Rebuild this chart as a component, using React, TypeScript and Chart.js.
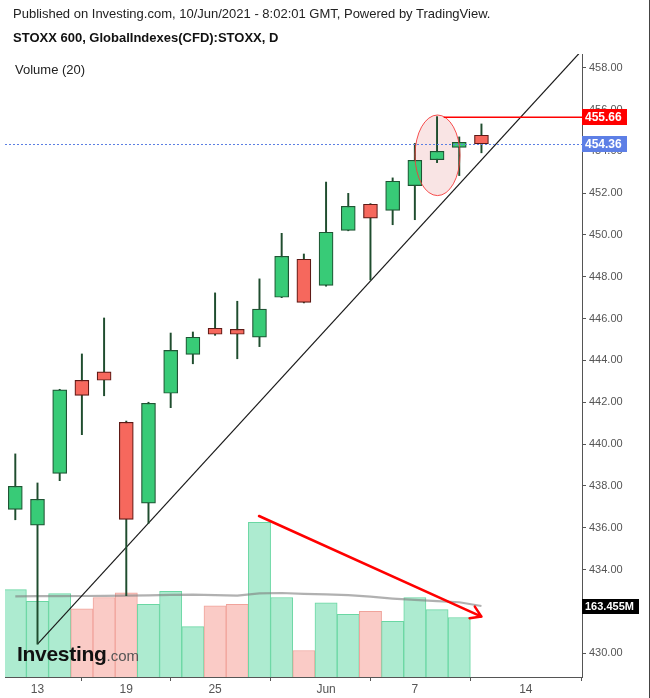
import React, { useEffect, useRef } from 'react';
import { Chart, registerables } from 'chart.js';

Chart.register(...registerables);

// ---- data ----
const DATES = [
  '2021-05-12', '2021-05-13', '2021-05-14', '2021-05-17', '2021-05-18', '2021-05-19',
  '2021-05-20', '2021-05-21', '2021-05-24', '2021-05-25', '2021-05-26', '2021-05-27',
  '2021-05-28', '2021-05-31', '2021-06-01', '2021-06-02', '2021-06-03', '2021-06-04',
  '2021-06-07', '2021-06-08', '2021-06-09', '2021-06-10',
];
const OPEN = [436.88, 436.12, 438.6, 443.05, 443.45, 441.04, 437.17, 442.43, 444.29, 445.54, 445.49, 445.11, 447.02, 448.84, 447.59, 450.22, 451.47, 451.18, 452.36, 453.6, 454.19, 454.77];
const HIGH = [439.53, 438.14, 442.62, 444.31, 446.03, 441.1, 442.0, 445.31, 445.36, 447.23, 446.83, 447.9, 450.08, 449.09, 452.53, 451.99, 451.5, 452.73, 454.38, 455.66, 454.69, 455.31];
const LOW = [436.38, 430.43, 438.25, 440.45, 442.31, 432.75, 436.21, 441.74, 443.84, 445.2, 444.08, 444.66, 447.0, 446.75, 447.55, 450.2, 447.85, 450.49, 450.73, 453.46, 452.84, 453.93];
const CLOSE = [437.98, 437.36, 442.59, 442.33, 443.05, 436.4, 441.95, 444.48, 445.11, 445.25, 445.25, 446.45, 448.98, 446.78, 450.13, 451.37, 450.8, 452.57, 453.57, 454.0, 454.43, 454.36];
const VOLUME_M = [201, 174, 192, 157, 183, 194, 167, 197, 116, 164, 167, 356, 183, 61, 171, 144, 151, 128, 183, 155, 137, 0];
const VOLUME_MA_M = [185.8, 186, 186.3, 186.5, 186.8, 187.2, 188, 189, 189.5, 188.5, 187.2, 192.7, 193.4, 191.5, 190.4, 188.5, 184.8, 180.5, 177.3, 174.5, 172, 163.455];

const X_TICK_POS = [1, 5, 9, 14, 18, 23];
const X_TICK_LABELS = ['13', '19', '25', 'Jun', '7', '14'];
const PRICE_TICKS = [430, 432, 434, 436, 438, 440, 442, 444, 446, 448, 450, 452, 454, 456, 458];

const X_MIN = -0.464;
const X_MAX = 25.53;
const PRICE_MIN = 428.86;
const PRICE_MAX = 458.655;
const VOL_MAX = 1434;

// annotations (data units)
const TREND_LINE = [{ x: 1, y: 430.43 }, { x: 25.7, y: 459.03 }];
const ARROW_FROM = { x: 10.98, y: 436.56 };
const ARROW_TO = { x: 21.0, y: 431.75 };
const HIGH_MARK_X = 19.3;
const HIGH_PRICE = 455.66;
const LAST_PRICE = 454.36;
const VOL_MA_LABEL = '163.455M';
const ELLIPSE = { x: 19.02, y: 453.81, rx: 1.013, ry: 1.927 };

const FONT = '"Liberation Sans", Arial, Helvetica, sans-serif';

const isUp = (i: number) => CLOSE[i] >= OPEN[i];

const overlayPlugin = {
  id: 'overlay',
  beforeDatasetsDraw(chart: any) {
    const { ctx, chartArea: ca, scales } = chart;
    const x = scales.x, y = scales.y;
    ctx.save();
    ctx.beginPath();
    ctx.rect(ca.left, ca.top, ca.right - ca.left, ca.bottom - ca.top);
    ctx.clip();
    const cx = x.getPixelForValue(ELLIPSE.x);
    const cy = y.getPixelForValue(ELLIPSE.y);
    const rx = Math.abs(x.getPixelForValue(ELLIPSE.x + ELLIPSE.rx) - cx);
    const ry = Math.abs(y.getPixelForValue(ELLIPSE.y + ELLIPSE.ry) - cy);
    ctx.beginPath();
    ctx.ellipse(cx, cy, rx, ry, 0, 0, Math.PI * 2);
    ctx.fillStyle = 'rgba(215, 90, 90, 0.16)';
    ctx.fill();
    ctx.restore();
  },
  afterDatasetsDraw(chart: any) {
    const { ctx, chartArea: ca, scales } = chart;
    const x = scales.x, y = scales.y;
    ctx.save();
    ctx.beginPath();
    ctx.rect(ca.left, ca.top, ca.right - ca.left, ca.bottom - ca.top);
    ctx.clip();

    // last price dotted line
    const yl = Math.round(y.getPixelForValue(LAST_PRICE)) + 0.5;
    ctx.strokeStyle = '#5b7fe3';
    ctx.lineWidth = 1;
    ctx.setLineDash([2, 2]);
    ctx.beginPath();
    ctx.moveTo(ca.left, yl);
    ctx.lineTo(ca.right, yl);
    ctx.stroke();
    ctx.setLineDash([]);

    // ellipse outline
    const cx = x.getPixelForValue(ELLIPSE.x);
    const cy = y.getPixelForValue(ELLIPSE.y);
    const rx = Math.abs(x.getPixelForValue(ELLIPSE.x + ELLIPSE.rx) - cx);
    const ry = Math.abs(y.getPixelForValue(ELLIPSE.y + ELLIPSE.ry) - cy);
    ctx.beginPath();
    ctx.ellipse(cx, cy, rx, ry, 0, 0, Math.PI * 2);
    ctx.strokeStyle = 'rgba(245, 60, 60, 0.9)';
    ctx.lineWidth = 1;
    ctx.stroke();

    // high horizontal line
    const yh = Math.round(y.getPixelForValue(HIGH_PRICE));
    const xh = x.getPixelForValue(HIGH_MARK_X);
    ctx.fillStyle = '#ff0000';
    ctx.fillRect(xh, yh - 0.5, ca.right - xh, 1.5);

    // arrow
    const ax1 = x.getPixelForValue(ARROW_FROM.x), ay1 = y.getPixelForValue(ARROW_FROM.y);
    const ax2 = x.getPixelForValue(ARROW_TO.x), ay2 = y.getPixelForValue(ARROW_TO.y);
    ctx.strokeStyle = '#ff0000';
    ctx.lineWidth = 2.5;
    ctx.lineCap = 'round';
    ctx.beginPath();
    ctx.moveTo(ax1, ay1);
    ctx.lineTo(ax2, ay2);
    const ang = Math.atan2(ay2 - ay1, ax2 - ax1);
    const hl = 12, ha = 0.56;
    ctx.moveTo(ax2, ay2);
    ctx.lineTo(ax2 - hl * Math.cos(ang - ha), ay2 - hl * Math.sin(ang - ha));
    ctx.moveTo(ax2, ay2);
    ctx.lineTo(ax2 - hl * Math.cos(ang + ha), ay2 - hl * Math.sin(ang + ha));
    ctx.stroke();
    ctx.restore();
  },
  afterDraw(chart: any) {
    const { ctx, chartArea: ca, scales } = chart;
    const y = scales.y, yv = scales.yv;
    ctx.save();
    const box = (val: string, cy: number, w: number, h: number, bg: string, size: number) => {
      ctx.fillStyle = bg;
      ctx.fillRect(ca.right, Math.round(cy - h / 2), w, h);
      ctx.fillStyle = '#ffffff';
      ctx.font = `bold ${size}px ${FONT}`;
      ctx.textBaseline = 'middle';
      ctx.textAlign = 'left';
      ctx.fillText(val, ca.right + 3, Math.round(cy - h / 2) + h / 2 + 0.5);
    };
    box(HIGH_PRICE.toFixed(2), y.getPixelForValue(HIGH_PRICE), 45, 16, '#ff0000', 12);
    box(LAST_PRICE.toFixed(2), y.getPixelForValue(LAST_PRICE), 45, 16, '#5d7fe6', 12);
    box(VOL_MA_LABEL, yv.getPixelForValue(VOLUME_MA_M[VOLUME_MA_M.length - 1]) + 1, 57, 15, '#000000', 11);
    ctx.restore();
  },
};

export default function App() {
  const ref = useRef<HTMLCanvasElement | null>(null);

  useEffect(() => {
    if (!ref.current) return;
    const idx = DATES.map((_, i) => i);
    const chart = new Chart(ref.current, {
      type: 'bar',
      data: {
        datasets: [
          {
            type: 'bar',
            label: 'Volume',
            yAxisID: 'yv',
            data: idx.map((i) => ({ x: i, y: VOLUME_M[i] })),
            backgroundColor: idx.map((i) => (isUp(i) ? '#adebd0' : '#facbc6')),
            borderColor: idx.map((i) => (isUp(i) ? '#6ad7a3' : '#f0a39b')),
            borderWidth: { top: 1, left: 1, right: 1, bottom: 0 },
            borderSkipped: 'bottom',
            barPercentage: 1,
            categoryPercentage: 1,
            grouped: false,
            order: 10,
          } as any,
          {
            type: 'line',
            label: 'Volume MA',
            yAxisID: 'yv',
            data: idx.map((i) => ({ x: i, y: VOLUME_MA_M[i] })),
            borderColor: 'rgba(125,125,125,0.6)',
            borderWidth: 2.2,
            pointRadius: 0,
            tension: 0,
            order: 9,
          } as any,
          {
            type: 'line',
            label: 'Trend',
            yAxisID: 'y',
            data: TREND_LINE,
            borderColor: '#1a1a1a',
            borderWidth: 1.2,
            pointRadius: 0,
            tension: 0,
            order: 6,
          } as any,
          {
            type: 'bar',
            label: 'Wicks',
            yAxisID: 'y',
            data: idx.map((i) => ({ x: i, y: [LOW[i], HIGH[i]] })),
            backgroundColor: '#1f4d2e',
            borderWidth: 0,
            barThickness: 1.3,
            grouped: false,
            order: 3,
          } as any,
          {
            type: 'bar',
            label: 'Bodies',
            yAxisID: 'y',
            data: idx.map((i) => ({ x: i, y: [OPEN[i], CLOSE[i]] })),
            backgroundColor: idx.map((i) => (isUp(i) ? '#38cb77' : '#f6685d')),
            borderColor: idx.map((i) => (isUp(i) ? '#1f5534' : '#5e1a16')),
            borderWidth: 1.2,
            borderSkipped: false,
            barThickness: 14,
            grouped: false,
            order: 2,
          } as any,
        ],
      },
      options: {
        animation: false,
        responsive: false,
        maintainAspectRatio: false,
        events: [],
        layout: { padding: { left: 5, top: 54, right: 0, bottom: 0 } },
        plugins: { legend: { display: false }, tooltip: { enabled: false } },
        scales: {
          x: {
            type: 'linear',
            position: 'bottom',
            min: X_MIN,
            max: X_MAX,
            offset: false,
            afterBuildTicks: (scale: any) => {
              scale.ticks = X_TICK_POS.map((v) => ({ value: v }));
            },
            afterFit: (scale: any) => {
              scale.height = 21;
            },
            ticks: {
              autoSkip: false,
              maxRotation: 0,
              minRotation: 0,
              padding: 1,
              color: '#555',
              font: { family: FONT, size: 12 },
              callback: (v: any) => {
                const k = X_TICK_POS.indexOf(Number(v));
                return k >= 0 ? X_TICK_LABELS[k] : '';
              },
            },
            grid: { display: true, drawOnChartArea: false, drawTicks: true, tickLength: 4, color: '#555' },
            border: { display: true, color: '#555', width: 1 },
          },
          y: {
            type: 'linear',
            position: 'right',
            min: PRICE_MIN,
            max: PRICE_MAX,
            afterBuildTicks: (scale: any) => {
              scale.ticks = PRICE_TICKS.map((v) => ({ value: v }));
            },
            afterFit: (scale: any) => {
              scale.width = 68;
            },
            ticks: {
              padding: 3,
              color: '#555',
              font: { family: FONT, size: 11 },
              callback: (v: any) => Number(v).toFixed(2),
            },
            grid: { display: true, drawOnChartArea: false, drawTicks: true, tickLength: 4, color: '#555' },
            border: { display: true, color: '#555', width: 1 },
          },
          yv: {
            type: 'linear',
            display: false,
            min: 0,
            max: VOL_MAX,
          },
        },
      } as any,
      plugins: [overlayPlugin],
    });
    return () => chart.destroy();
  }, []);

  const text = (extra: React.CSSProperties): React.CSSProperties => ({
    position: 'absolute',
    fontFamily: FONT,
    color: '#222',
    whiteSpace: 'nowrap',
    lineHeight: '14px',
    ...extra,
  });

  return (
    <div style={{ position: 'absolute', left: 0, top: 0, width: 650, height: 698, background: '#fff', overflow: 'hidden' }}>
      <canvas ref={ref} width={650} height={698} style={{ position: 'absolute', left: 0, top: 0, width: 650, height: 698 }} />
      <div style={text({ left: 13, top: 7, fontSize: 13 })}>
        Published on Investing.com, 10/Jun/2021 - 8:02:01 GMT, Powered by TradingView.
      </div>
      <div style={text({ left: 13, top: 31, fontSize: 13, fontWeight: 'bold', color: '#111' })}>
        STOXX 600, GlobalIndexes(CFD):STOXX, D
      </div>
      <div style={text({ left: 15, top: 63, fontSize: 13 })}>Volume (20)</div>
      <div style={text({ left: 17, top: 642, lineHeight: '24px' })}>
        <span style={{ fontSize: 21, fontWeight: 'bold', color: '#111', letterSpacing: '-0.3px' }}>Investing</span>
        <span style={{ fontSize: 15, color: '#555' }}>.com</span>
      </div>
      <div style={{ position: 'absolute', left: 649, top: 0, width: 1, height: 698, background: '#444' }} />
    </div>
  );
}
